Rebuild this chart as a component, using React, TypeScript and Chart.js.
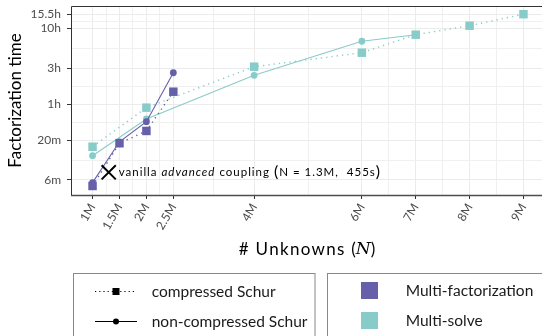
import React, { useEffect, useRef } from 'react';
import { Chart, registerables } from 'chart.js';
Chart.register(...registerables);

// ---- data (N in millions, time in seconds) ----
const xMajor = [1, 1.5, 2, 2.5, 4, 6, 7, 8, 9];
const xMajorLabels = ['1M', '1.5M', '2M', '2.5M', '4M', '6M', '7M', '8M', '9M'];
const yMajor = [360, 1200, 3600, 10800, 36000, 55800];
const yMajorLabels = ['6m', '20m', '1h', '3h', '10h', '15.5h'];

const mfN = [1, 1.5, 2, 2.5];
const mfCompressed = [300, 1100, 1600, 5280];
const mfNonCompressed = [332, 1150, 2120, 9400];

const msNCompressed = [1, 2, 4, 6, 7, 8, 9];
const msCompressed = [990, 3250, 11300, 17300, 29900, 39300, 55800];
const msNNonCompressed = [1, 2, 4, 6, 7];
const msNonCompressed = [754, 2300, 8700, 24500, 29900];

const vanillaN = [1.3];
const vanillaTime = [455];

const PURPLE = '#6560A9';
const TEAL = '#88CCCA';
const FONT = 'Lato';

type T = { value: number; label: string; major: boolean };
function buildTicks(major: number[], labels: string[], geo: boolean): T[] {
  const out: T[] = [];
  major.forEach((v, i) => {
    out.push({ value: v, label: labels[i], major: true });
    if (i < major.length - 1) {
      const n = major[i + 1];
      out.push({ value: geo ? Math.sqrt(v * n) : (v + n) / 2, label: '', major: false });
    }
  });
  return out;
}
const xTicks = buildTicks(xMajor, xMajorLabels, false);
const yTicks = buildTicks(yMajor, yMajorLabels, true);

const pts = (xs: number[], ys: number[]) => xs.map((x, i) => ({ x, y: ys[i] }));

const isMajor = (list: T[], v: number) => list.some((t) => t.major && Math.abs(t.value - v) < 1e-6);

type Part = [string, string, number];
function drawParts(ctx: any, parts: Part[], x0: number, y0: number, center: boolean) {
  let total = 0;
  for (const [s, f, ls] of parts) {
    ctx.font = f;
    ctx.letterSpacing = ls + 'px';
    total += ctx.measureText(s).width;
  }
  let cx = center ? x0 - total / 2 : x0;
  for (const [s, f, ls] of parts) {
    ctx.font = f;
    ctx.letterSpacing = ls + 'px';
    ctx.fillText(s, cx, y0);
    cx += ctx.measureText(s).width;
  }
  ctx.letterSpacing = '0px';
}

const overlay = {
  id: 'overlay',
  afterDraw(chart: any) {
    const { ctx, chartArea: a, scales } = chart;
    const x = scales.x, y = scales.y;
    ctx.save();
    // panel border
    ctx.strokeStyle = '#333333';
    ctx.lineWidth = 1;
    ctx.beginPath();
    ctx.moveTo(a.left + 0.5, a.bottom);
    ctx.lineTo(a.left + 0.5, a.top + 0.5);
    ctx.lineTo(a.right, a.top + 0.5);
    ctx.stroke();
    ctx.lineWidth = 1.6;
    ctx.strokeStyle = '#4D4D4D';
    ctx.beginPath();
    ctx.moveTo(a.left, a.bottom + 0.5);
    ctx.lineTo(a.right, a.bottom + 0.5);
    ctx.stroke();

    ctx.fillStyle = '#000';
    ctx.textBaseline = 'middle';
    ctx.textAlign = 'left';

    // annotation text
    const ax = x.getPixelForValue(vanillaN[0]) + 10;
    const ay = y.getPixelForValue(vanillaTime[0]);
    drawParts(ctx, [
      ['vanilla ', `11.5px ${FONT}`, 1],
      ['advanced', `italic 11.5px ${FONT}`, 1],
      [' coupling ', `11.5px ${FONT}`, 1],
      ['(', `16px ${FONT}`, 1],
      ['N = 1.3M,  455s', `11.5px ${FONT}`, 1],
      [')', `16px ${FONT}`, 1],
    ], ax, ay, false);

    // x axis title
    drawParts(ctx, [
      ['# Unknowns ', `17px ${FONT}`, 1.3],
      ['(', `17px ${FONT}`, 0],
      ['N', `italic 17px "DejaVu Serif"`, 0],
      [')', `17px ${FONT}`, 0],
    ], (a.left + a.right) / 2 - 1, 250, true);

    // legend boxes
    ctx.strokeStyle = '#888888';
    ctx.lineWidth = 1;
    ctx.strokeRect(73.5, 273.5, 241.5, 80);
    ctx.strokeRect(327.5, 273.5, 230, 80);

    ctx.font = `15.5px ${FONT}`;
    // left legend
    ctx.strokeStyle = '#000';
    ctx.lineWidth = 1.1;
    ctx.setLineDash([1.2, 3]);
    ctx.beginPath(); ctx.moveTo(95, 291.5); ctx.lineTo(137, 291.5); ctx.stroke();
    ctx.setLineDash([]);
    ctx.fillStyle = '#000';
    ctx.fillRect(112.5, 288, 7, 7);
    ctx.beginPath(); ctx.moveTo(95, 321.5); ctx.lineTo(137, 321.5); ctx.stroke();
    ctx.beginPath(); ctx.arc(116, 321.5, 3, 0, Math.PI * 2); ctx.fill();
    ctx.fillStyle = '#1A1A1A';
    ctx.fillText('compressed Schur', 151.7, 291.5);
    ctx.fillText('non-compressed Schur', 151.7, 321.5);
    // right legend
    ctx.fillStyle = PURPLE;
    ctx.fillRect(361, 282, 17, 17);
    ctx.fillStyle = TEAL;
    ctx.fillRect(361, 312, 17, 17);
    ctx.fillStyle = '#1A1A1A';
    ctx.fillText('Multi-factorization', 405.7, 291);
    ctx.fillText('Multi-solve', 405.7, 321);
    ctx.restore();
  },
};

export default function App() {
  const ref = useRef<HTMLCanvasElement>(null);
  useEffect(() => {
    if (!ref.current) return;
    const lineDs = (label: string, xs: number[], ys: number[], color: string, dotted: boolean, order: number) => ({
      label,
      data: pts(xs, ys),
      borderColor: color,
      backgroundColor: color,
      borderWidth: dotted ? 1.4 : 1.1,
      borderDash: dotted ? [1.3, 4] : [],
      pointStyle: dotted ? 'rect' : 'circle',
      pointRadius: dotted ? 6 : 3.4,
      pointBorderWidth: 0,
      pointBackgroundColor: color,
      tension: 0,
      showLine: true,
      clip: false,
      order,
    });
    const chart = new Chart(ref.current, {
      type: 'line',
      data: {
        datasets: [
          {
            label: 'vanilla',
            data: pts(vanillaN, vanillaTime),
            showLine: false,
            pointStyle: 'crossRot',
            pointRadius: 10,
            pointBorderWidth: 2,
            pointBorderColor: '#000',
            borderColor: '#000',
            order: 0,
          } as any,
          lineDs('MF compressed', mfN, mfCompressed, PURPLE, true, 1),
          lineDs('MF non-compressed', mfN, mfNonCompressed, PURPLE, false, 2),
          lineDs('MS compressed', msNCompressed, msCompressed, TEAL, true, 3),
          lineDs('MS non-compressed', msNNonCompressed, msNonCompressed, TEAL, false, 4),
        ],
      },
      options: {
        animation: false,
        responsive: false,
        maintainAspectRatio: false,
        layout: { autoPadding: false, padding: { top: 6, right: 1, left: 0, bottom: 0 } },
        plugins: { legend: { display: false }, tooltip: { enabled: false } },
        scales: {
          x: {
            type: 'linear',
            min: 0.6,
            max: 9.4,
            afterBuildTicks: (s: any) => { s.ticks = xTicks.map((t) => ({ value: t.value })); },
            afterFit: (s: any) => { s.height = 141; s.paddingLeft = 0; s.paddingRight = 0; },
            ticks: {
              autoSkip: false,
              minRotation: 60,
              maxRotation: 60,
              padding: 2,
              color: '#4D4D4D',
              font: { family: FONT, size: 12 },
              callback: (_v: any, i: number) => xTicks[i].label,
            },
            grid: {
              color: (c: any) => (c.tick && isMajor(xTicks, c.tick.value) ? '#EBEBEB' : '#F0F0F0'),
              lineWidth: 1,
              tickLength: 4,
              tickWidth: 1,
              tickColor: (c: any) => (c.tick && isMajor(xTicks, c.tick.value) ? '#333333' : 'rgba(0,0,0,0)'),
            },
            border: { display: false },
          },
          y: {
            type: 'logarithmic',
            min: 228,
            max: 71600,
            afterBuildTicks: (s: any) => { s.ticks = yTicks.map((t) => ({ value: t.value })); },
            afterFit: (s: any) => { s.width = 71; s.paddingTop = 0; s.paddingBottom = 0; },
            ticks: {
              autoSkip: false,
              padding: 6,
              color: '#4D4D4D',
              font: { family: FONT, size: 12 },
              callback: (_v: any, i: number) => yTicks[i].label,
            },
            grid: {
              color: (c: any) => (c.tick && isMajor(yTicks, c.tick.value) ? '#EBEBEB' : '#F0F0F0'),
              lineWidth: 1,
              tickLength: 4,
              tickWidth: 1,
              tickColor: (c: any) => (c.tick && isMajor(yTicks, c.tick.value) ? '#333333' : 'rgba(0,0,0,0)'),
            },
            border: { display: false },
            title: {
              display: true,
              text: 'Factorization time',
              color: '#000',
              font: { family: FONT, size: 17 },
              padding: { top: 5, bottom: 0 },
            },
          },
        },
      } as any,
      plugins: [overlay],
    });
    return () => chart.destroy();
  }, []);
  return (
    <div style={{ position: 'fixed', left: 0, top: 0, width: 542, height: 336, overflow: 'hidden', background: '#fff' }}>
      <canvas ref={ref} width={546} height={336} style={{ display: 'block', width: 546, height: 336 }} />
    </div>
  );
}
